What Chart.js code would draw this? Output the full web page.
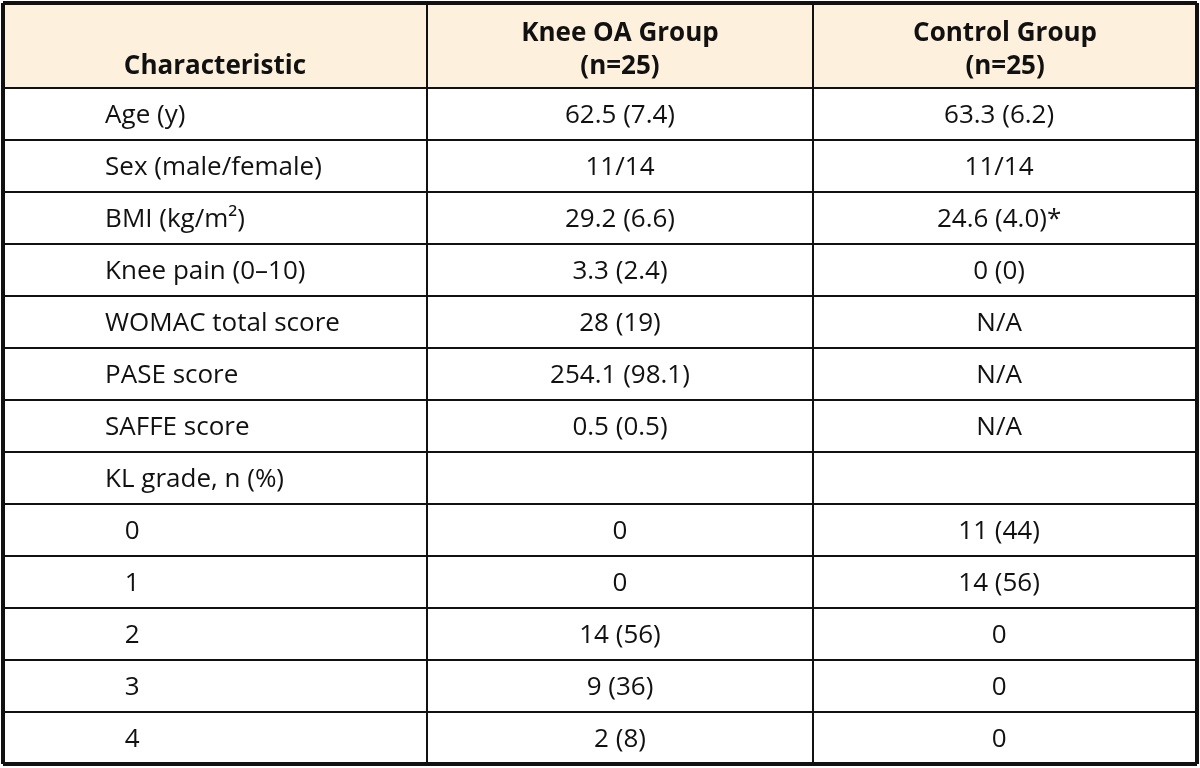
<!DOCTYPE html>
<html>
<head>
<meta charset="utf-8">
<title>Characteristics table</title>
<script src="https://cdn.jsdelivr.net/npm/chart.js@4.4.1/dist/chart.umd.min.js"></script>
<style>
    html, body { margin: 0; padding: 0; background: #ffffff; }
    #wrap { width: 1200px; height: 768px; }
</style>
</head>
<body>
<div id="wrap"><canvas id="tableChart" width="1200" height="768"></canvas></div>
<script>
// table content
const headers = [['Characteristic'], ['Knee OA Group', '(n=25)'], ['Control Group', '(n=25)']];
const characteristics = ['Age (y)', 'Sex (male/female)', 'BMI (kg/m\u00B2)', 'Knee pain (0\u201310)', 'WOMAC total score', 'PASE score', 'SAFFE score', 'KL grade, n (%)', '0', '1', '2', '3', '4'];
const rowLevel = [0, 0, 0, 0, 0, 0, 0, 0, 1, 1, 1, 1, 1];
const kneeOA = ['62.5 (7.4)', '11/14', '29.2 (6.6)', '3.3 (2.4)', '28 (19)', '254.1 (98.1)', '0.5 (0.5)', '', '0', '0', '14 (56)', '9 (36)', '2 (8)'];
const control = ['63.3 (6.2)', '11/14', '24.6 (4.0)*', '0 (0)', 'N/A', 'N/A', 'N/A', '', '11 (44)', '14 (56)', '0', '0', '0'];

// layout (in scale units)
const HEADER_UNITS = 1.635;
const colEdges = [0, 35.5, 67.85, 100];
const rowEdges = [-HEADER_UNITS].concat(characteristics.map((_, i) => i)).concat([characteristics.length]);
const labelX = [8.55, 10.2];
const headerLineY = [-1.04, -0.42];

const FONT = '"Open Sans", "DejaVu Sans", sans-serif';
const TEXT_COLOR = '#111111';

function cellPoints(values, xFor) {
    return values.map((v, i) => ({ x: xFor(i), y: i + 0.53, text: v }));
}

const tablePlugin = {
    id: 'tablePlugin',
    beforeDraw(chart) {
        const { ctx, scales: { x, y } } = chart;
        ctx.save();
        ctx.fillStyle = '#fdf0dc';
        const top = y.getPixelForValue(-HEADER_UNITS);
        const bottom = y.getPixelForValue(0);
        ctx.fillRect(x.left, top, x.right - x.left, bottom - top);
        ctx.restore();
    },
    afterDatasetsDraw(chart) {
        const { ctx, scales: { x, y } } = chart;
        ctx.save();
        ctx.fillStyle = TEXT_COLOR;
        ctx.textBaseline = 'middle';

        // header cells
        ctx.font = 'bold 26px ' + FONT;
        ctx.textAlign = 'center';
        headers.forEach((lines, c) => {
            const cx = x.getPixelForValue((colEdges[c] + colEdges[c + 1]) / 2);
            const offset = headerLineY.length - lines.length;
            lines.forEach((line, k) => {
                ctx.fillText(line, cx, y.getPixelForValue(headerLineY[offset + k]));
            });
        });

        // body cells
        ctx.font = '26px ' + FONT;
        chart.data.datasets.forEach((ds, di) => {
            const meta = chart.getDatasetMeta(di);
            ctx.textAlign = di === 0 ? 'left' : 'center';
            meta.data.forEach((pt, i) => {
                const t = ds.data[i].text;
                if (t) ctx.fillText(t, pt.x, pt.y);
            });
        });
        ctx.restore();
    }
};

function initTable() {
    const canvas = document.getElementById('tableChart');
    if (!canvas) return;

    const lastRow = rowEdges.length - 1;
    const lastCol = colEdges.length - 1;

    new Chart(canvas, {
        type: 'scatter',
        data: {
            datasets: [
                { label: 'Characteristic', data: cellPoints(characteristics, i => labelX[rowLevel[i]]) },
                { label: 'Knee OA Group', data: cellPoints(kneeOA, () => (colEdges[1] + colEdges[2]) / 2) },
                { label: 'Control Group', data: cellPoints(control, () => (colEdges[2] + colEdges[3]) / 2 - 0.5) }
            ]
        },
        options: {
            responsive: false,
            animation: false,
            events: [],
            layout: { padding: { top: 3, left: 3, right: 3, bottom: 4 } },
            elements: { point: { radius: 0, hoverRadius: 0 } },
            plugins: {
                legend: { display: false },
                tooltip: { enabled: false }
            },
            scales: {
                x: {
                    type: 'linear',
                    min: colEdges[0],
                    max: colEdges[lastCol],
                    afterBuildTicks: axis => { axis.ticks = colEdges.map(v => ({ value: v })); },
                    ticks: { display: false },
                    border: { display: false },
                    grid: {
                        drawTicks: false,
                        color: '#111111',
                        lineWidth: c => (c.index === 0 || c.index === lastCol) ? 4 : 2
                    }
                },
                y: {
                    type: 'linear',
                    reverse: true,
                    min: rowEdges[0],
                    max: rowEdges[lastRow],
                    afterBuildTicks: axis => { axis.ticks = rowEdges.map(v => ({ value: v })); },
                    ticks: { display: false },
                    border: { display: false },
                    grid: {
                        drawTicks: false,
                        color: '#111111',
                        lineWidth: c => (c.index === 0 || c.index === lastRow) ? 4 : 2
                    }
                }
            }
        },
        plugins: [tablePlugin]
    });
}

document.addEventListener('DOMContentLoaded', initTable);
</script>
</body>
</html>
